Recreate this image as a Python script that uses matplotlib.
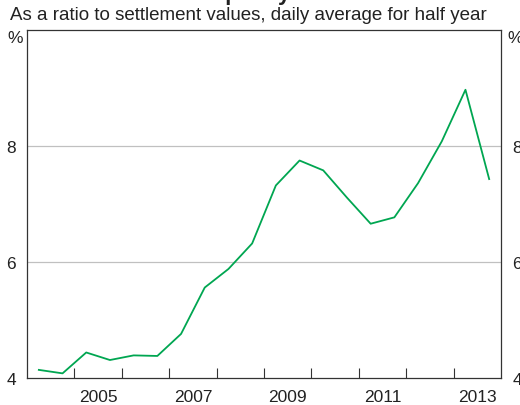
import numpy as np
import matplotlib
matplotlib.use('Agg')
import matplotlib.pyplot as plt

plt.rcParams['font.family'] = ['Liberation Sans', 'DejaVu Sans']

# half-yearly observations, plotted at the middle of each half
periods = [2004.25, 2004.75, 2005.25, 2005.75, 2006.25, 2006.75, 2007.25, 2007.75,
           2008.25, 2008.75, 2009.25, 2009.75, 2010.25, 2010.75, 2011.25, 2011.75,
           2012.25, 2012.75, 2013.25, 2013.75]
ratio = [4.14, 4.08, 4.44, 4.31, 4.39, 4.38, 4.76, 5.56, 5.88, 6.32,
         7.32, 7.75, 7.58, 7.11, 6.66, 6.77, 7.36, 8.08, 8.97, 7.43]

year_ticks = list(range(2005, 2014))
label_years = [2005, 2007, 2009, 2011, 2013]
y_ticks = [4, 6, 8]

fig = plt.figure(figsize=(5.2, 4.06), dpi=100)
ax = fig.add_axes([0.0519, 0.0665, 0.9116, 0.8571])

ax.plot(periods, ratio, color='#00a651', lw=1.3, zorder=3)

ax.set_xlim(2004, 2014)
ax.set_ylim(4, 10)

ax.set_xticks(year_ticks)
ax.set_xticklabels([])
ax.set_xticks([y + 0.5 for y in label_years], minor=True)
ax.set_xticklabels([str(y) for y in label_years], minor=True)
ax.tick_params(axis='x', which='major', direction='in', length=7, width=0.8, color='#333333')
ax.tick_params(axis='x', which='minor', length=0, pad=8, labelsize=12.5, labelcolor='#222222')

ax.set_yticks(y_ticks)
ax.tick_params(axis='y', length=0, pad=8, labelsize=12.5, labelcolor='#222222',
               labelleft=True, labelright=True)
for yv in [6, 8]:
    ax.axhline(yv, color='#c0c0c0', lw=0.9, zorder=1)

for sp in ax.spines.values():
    sp.set_color('#333333')
    sp.set_linewidth(0.9)

fig.text(0.015, 0.905, '%', fontsize=12.5, color='#222222', ha='left', va='center')
fig.text(0.975, 0.905, '%', fontsize=12.5, color='#222222', ha='left', va='center')

fig.text(0.478, 0.963, 'As a ratio to settlement values, daily average for half year',
         fontsize=13.5, color='#222222', ha='center', va='center')
fig.text(0.47, 1.0, 'Liquidity', fontsize=16, fontweight='bold', color='#222222',
         ha='center', va='baseline')

fig.savefig('out.png', dpi=100)
